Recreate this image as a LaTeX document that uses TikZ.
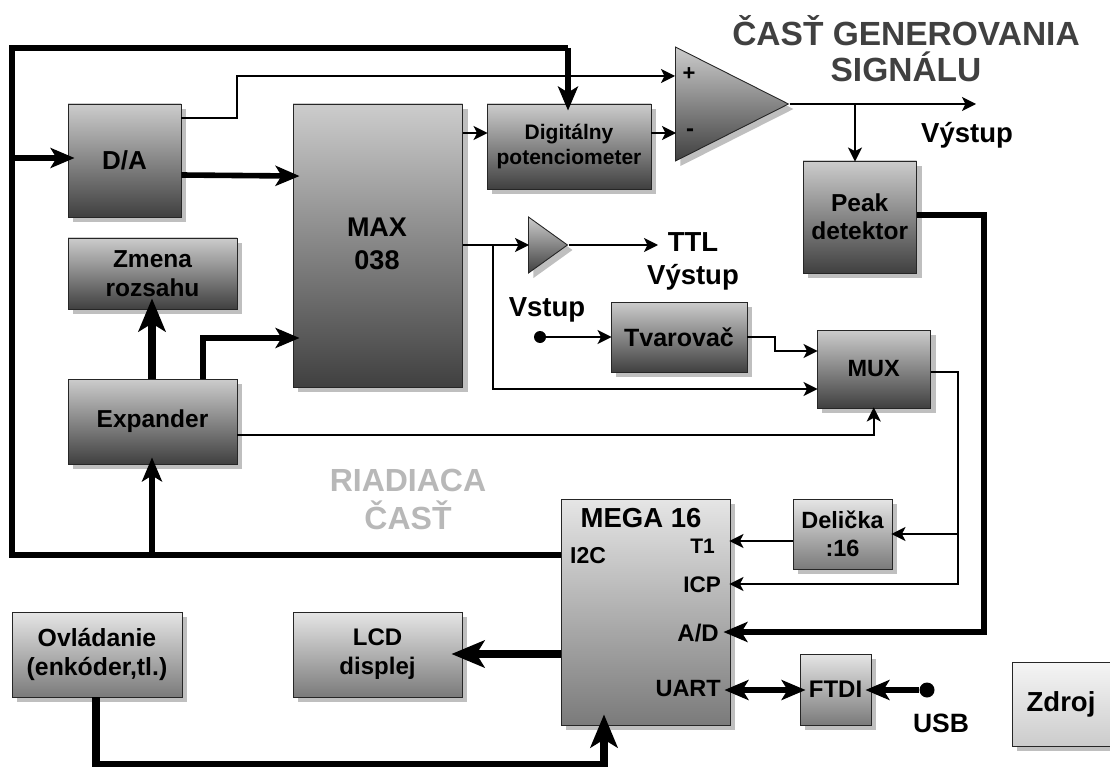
\documentclass[tikz,border=0pt]{standalone}
\usepackage{fontspec}
\setmainfont{Liberation Sans}
\usetikzlibrary{shapes.geometric, arrows.meta, shadows}
\tikzset{
  fsz/.style 2 args={font=\bfseries\fontsize{#1}{#2}\selectfont},
  blockbox/.style={rectangle, draw=black!85, line width=0.9pt, top color=black!20, bottom color=black!75, inner sep=0pt, align=center, drop shadow={shadow xshift=5pt, shadow yshift=-5pt, fill=black!25, opacity=1}},
  midbox/.style={blockbox, top color=black!10, bottom color=black!52},
  lightbox/.style={blockbox, top color=black!4, bottom color=black!20},
  ampbox/.style={isosceles triangle, isosceles triangle stretches, shape border rotate=0, draw=black!85, line width=0.9pt, top color=black!20, bottom color=black!75, inner sep=0pt, anchor=lower side, drop shadow={shadow xshift=5pt, shadow yshift=-5pt, fill=black!25, opacity=1}},
  plainline/.style={draw=black, line width=1.8pt, -{Stealth[length=14pt,width=14pt,inset=3.5pt]}},
  sigline/.style={plainline, shorten >=-1pt},
  busline/.style={draw=black, line width=5.6pt, -{Stealth[length=24pt,width=20pt,inset=6pt]}, shorten >=-7pt},
  buswire/.style={draw=black, line width=5.6pt},
  fatline/.style={draw=black, line width=8.4pt, -{Stealth[length=33pt,width=27pt,inset=8pt]}, shorten >=-11pt},
  lbl/.style={inner sep=0pt, align=center},
  dot/.style={circle, fill=black, inner sep=0pt, minimum size=#1}
}
\begin{document}
\begin{tikzpicture}[x=1pt,y=-1pt]
\useasboundingbox (0,0) rectangle (1110,767);
\node[blockbox, fsz={26}{30}, minimum width=113, minimum height=113] (da) at (124.5,160.5) {D/A};
\node[blockbox, minimum width=169.5, minimum height=283] (max) at (377.75,245.5) {};
\node[blockbox, fsz={24.5}{28.5}, minimum width=169, minimum height=71] (zmena) at (152.5,273.5) {Zmena\\rozsahu};
\node[blockbox, fsz={24.5}{28}, minimum width=169, minimum height=85] (exp) at (152.5,421.5) {Expander};
\node[blockbox, fsz={21}{25}, minimum width=164, minimum height=85] (digi) at (569,146.5) {Digitálny\\potenciometer};
\node[blockbox, fsz={24.5}{28}, minimum width=113.5, minimum height=112] (peak) at (859.75,217) {Peak\\detektor};
\node[blockbox, fsz={25}{29}, minimum width=136, minimum height=70] (tvar) at (679,337) {Tvarovač};
\node[blockbox, fsz={23.5}{28}, minimum width=113.5, minimum height=78] (mux) at (873.75,369) {MUX};
\node[midbox, minimum width=169, minimum height=226] (mega) at (645.5,612) {};
\node[midbox, fsz={23.5}{28}, minimum width=99, minimum height=70] (del) at (842.5,534) {Delička\\:16};
\node[midbox, fsz={24}{28}, minimum width=71, minimum height=71] (ftdi) at (835.5,689.5) {FTDI};
\node[midbox, fsz={24.8}{29}, minimum width=170, minimum height=85] (ovl) at (97,654.5) {Ovládanie\\(enkóder,tl.)};
\node[midbox, fsz={24}{29}, minimum width=169, minimum height=85] (lcd) at (377.5,654.5) {LCD\\displej};
\node[lightbox, fsz={27.5}{32}, minimum width=98, minimum height=84] (zdroj) at (1061,704) {Zdroj};
\node[ampbox, minimum width=114, minimum height=113] (amp) at (675,104) {};
\node[ampbox, minimum width=56, minimum height=39] (ttl) at (528,245) {};
\node[lbl, fsz={27}{33}] (maxlbl) at (377,244) {MAX\\038};
\node[lbl, fsz={22}{26}] (plus) at (689,74) {+};
\node[lbl, fsz={24}{28}] (minus) at (690,133) {-};
\node[lbl, fsz={23}{27}, anchor=west] (i2c) at (570,556) {I2C};
\node[lbl, fsz={27.5}{32}] (mega16) at (641,518) {MEGA 16};
\node[lbl, fsz={21}{26}, anchor=east] (t1) at (715,546) {T1};
\node[lbl, fsz={22.5}{26}, anchor=east] (icp) at (721,585) {ICP};
\node[lbl, fsz={24}{28}, anchor=east] (ad) at (719,633) {A/D};
\node[lbl, fsz={23.5}{28}, anchor=east] (uart) at (721,689) {UART};
\node[lbl, fsz={33.5}{36}, text=black!75] (title) at (906,49) {ČASŤ GENEROVANIA\\SIGNÁLU};
\node[lbl, fsz={32}{38}, text=black!28] (riad) at (408,499) {RIADIACA\\ČASŤ};
\node[lbl, fsz={27.5}{32}] (vyst) at (967,135) {Výstup};
\node[lbl, fsz={27.5}{33}] (ttltxt) at (693,261) {TTL\\Výstup};
\node[lbl, fsz={27.5}{32}] (vstup) at (547,310) {Vstup};
\node[lbl, fsz={26.5}{31}] (usb) at (941,723) {USB};
\node[dot=12pt] (vin) at (540,337) {};
\node[dot=15pt] (usbin) at (927,690) {};
\coordinate (vout) at (975,104);
\coordinate (ttlout) at (657,245);
\coordinate (busa) at (12,48);
\coordinate (busb) at (12,555);
\coordinate (busc) at (568,48);
\coordinate (busd) at (12,158);
\coordinate (buse) at (152,555);
\coordinate (peakb) at (984,215);
\coordinate (peakc) at (984,632);
\coordinate (ampb) at (855,104);
\coordinate (maxb) at (493,245);
\coordinate (maxc) at (493,389);
\coordinate (muxb) at (958,372);
\coordinate (muxc) at (958,584);
\coordinate (muxd) at (958,534);
\coordinate (ovlb) at (96,765);
\coordinate (ovlc) at (604,765);
\draw[buswire] (busc) -- (busa) -- (busb) -- (mega.west |- busb);
\draw[busline] (busc) -- (digi.north -| busc);
\draw[busline] (busd) -- (da.west |- busd);
\draw[busline] (buse) -- (exp.south -| buse);
\draw[fatline] (exp.north -| buse) -- (zmena.south -| buse);
\draw[busline] (da.east |- 0,175) -- (max.west |- 0,176);
\draw[busline] (exp.north -| 203,0) -- (203,338) -- (max.west |- 0,338);
\draw[plainline] (da.east |- 0,118) -- (237,118) -- (237,76) -- (amp.lower side |- 0,76);
\draw[sigline] (max.east |- 0,133) -- (digi.west |- 0,133);
\draw[sigline] (digi.east |- 0,133) -- (amp.lower side |- 0,133);
\draw[sigline] (amp.apex) -- (vout);
\draw[sigline] (ampb) -- (peak.north -| ampb);
\draw[busline] (peak.east |- peakb) -- (peakb) -- (peakc) -- (mega.east |- peakc);
\draw[sigline] (max.east |- maxb) -- (ttl.lower side);
\draw[sigline] (maxb) -- (maxc) -- (mux.west |- maxc);
\draw[sigline] (ttl.apex) -- (ttlout);
\draw[sigline] (vin) -- (tvar.west);
\draw[sigline] (tvar.east) -- (775,337) -- (775,351) -- (mux.west |- 0,351);
\draw[sigline] (mux.east |- muxb) -- (muxb) -- (muxc) -- (mega.east |- muxc);
\draw[sigline] (muxd) -- (del.east |- muxd);
\draw[sigline] (del.west |- 0,541) -- (mega.east |- 0,541);
\draw[sigline] (exp.east |- 0,435) -- (mux.south |- 0,435) -- (mux.south);
\draw[fatline] (mega.west |- 0,654) -- (lcd.east |- 0,654);
\draw[fatline] (ovl.south -| ovlb) -- (ovlb) -- (ovlc) -- (mega.south -| ovlc);
\draw[busline, {Stealth[length=24pt,width=20pt,inset=6pt]}-{Stealth[length=24pt,width=20pt,inset=6pt]}, shorten <=-6pt, shorten >=-6pt] (mega.east |- usbin) -- (ftdi.west |- usbin);
\draw[busline, shorten >=-6pt] (usbin) -- (ftdi.east |- usbin);
\end{tikzpicture}
\end{document}
